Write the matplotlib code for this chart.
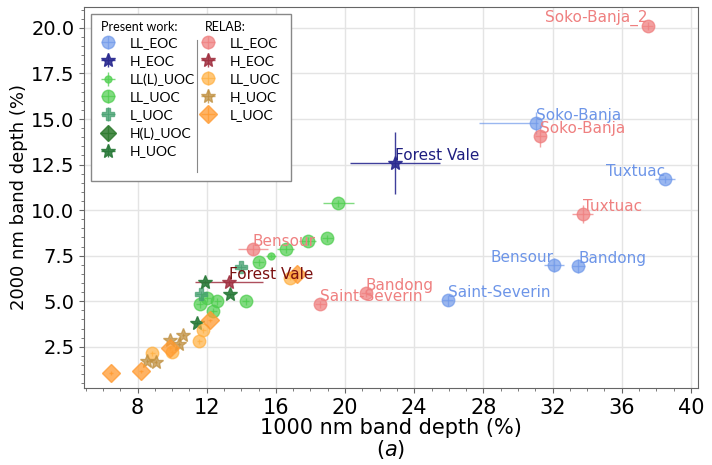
import numpy as np
import matplotlib
matplotlib.use('Agg')
import matplotlib.pyplot as plt
from matplotlib.lines import Line2D
from matplotlib.ticker import MultipleLocator

# Present work
pw_ll_eoc_names = ['Soko-Banja', 'Tuxtuac', 'Bensour', 'Bandong', 'Saint-Severin']
pw_ll_eoc_x = [31.05, 38.5, 32.08, 33.5, 25.93]
pw_ll_eoc_y = [14.78, 11.7, 6.98, 6.93, 5.05]
pw_ll_eoc_xerr = [[3.3, 0.6, 0.6, 0.4, 0.3], [0.1, 0.6, 0.6, 0.4, 0.3]]
pw_ll_eoc_yerr = [0.6, 0.2, 0.4, 0.4, 0.3]

pw_h_eoc_names = ['Forest Vale']
pw_h_eoc_x = [22.9]
pw_h_eoc_y = [12.58]
pw_h_eoc_xerr = [2.6]
pw_h_eoc_yerr = [1.7]

pw_lll_uoc_x = [15.7]
pw_lll_uoc_y = [7.47]

pw_ll_uoc_x = [19.6, 18.98, 17.83, 16.56, 15.0, 14.26, 12.6, 12.02, 11.6, 12.37]
pw_ll_uoc_y = [10.38, 8.46, 8.3, 7.86, 7.14, 5.0, 5.0, 5.17, 4.84, 4.45]
pw_ll_uoc_xerr = [0.9, 0.3, 0.5, 0.5, 0.3, 0.2, 0.2, 0.2, 0.2, 0.2]

pw_l_uoc_x = [13.98, 11.68]
pw_l_uoc_y = [6.87, 5.38]

pw_hl_uoc_x = [np.nan]
pw_hl_uoc_y = [np.nan]

pw_h_uoc_x = [11.9, 13.35, 11.45]
pw_h_uoc_y = [6.04, 5.38, 3.79]

# RELAB
rl_ll_eoc_names = ['Soko-Banja_2', 'Soko-Banja', 'Tuxtuac', 'Bandong', 'Saint-Severin', 'Bensour']
rl_ll_eoc_x = [37.5, 31.3, 33.75, 21.2, 18.57, 14.67]
rl_ll_eoc_y = [20.1, 14.07, 9.78, 5.44, 4.84, 7.86]
rl_ll_eoc_xerr = [0.3, 0.3, 0.6, 0.3, 0.3, 0.85]
rl_ll_eoc_yerr = [0.2, 0.6, 0.5, 0.2, 0.2, 0.3]

rl_h_eoc_names = ['Forest Vale']
rl_h_eoc_x = [13.29]
rl_h_eoc_y = [6.04]
rl_h_eoc_xerr = [1.95]

rl_ll_uoc_x = [8.86, 10.0, 11.56, 11.8, 16.8]
rl_ll_uoc_y = [2.14, 2.2, 2.8, 3.4, 6.3]

rl_h_uoc_x = [8.57, 9.05, 9.9, 10.4, 10.64]
rl_h_uoc_y = [1.72, 1.65, 2.9, 2.64, 3.15]

rl_l_uoc_x = [6.45, 8.2, 9.9, 12.2, 17.2]
rl_l_uoc_y = [1.06, 1.15, 2.45, 3.95, 6.5]

fig = plt.figure(figsize=(7.12, 4.65), dpi=100)
ax = fig.add_axes([0.118, 0.166, 0.862, 0.819])

def eb(x, y, xerr=None, yerr=None, **kw):
    return ax.errorbar(x, y, xerr=xerr, yerr=yerr, linestyle='none', elinewidth=1, capsize=0, **kw)

h1 = eb(pw_ll_eoc_x, pw_ll_eoc_y, pw_ll_eoc_xerr, pw_ll_eoc_yerr, fmt='o', color='#7099ea', ms=9, alpha=0.7, label='LL_EOC')
h2 = eb(pw_h_eoc_x, pw_h_eoc_y, pw_h_eoc_xerr, pw_h_eoc_yerr, fmt='*', color='#2a2a90', ms=10, alpha=0.9, label='H_EOC')
h3 = eb(pw_lll_uoc_x, pw_lll_uoc_y, 0.3, 0.1, fmt='o', color='#55d155', ms=5, alpha=0.8, label='LL(L)_UOC')
h4 = eb(pw_ll_uoc_x, pw_ll_uoc_y, pw_ll_uoc_xerr, 0.2, fmt='o', color='#4ccd4c', ms=9, alpha=0.7, label='LL_UOC')
h5 = eb(pw_l_uoc_x, pw_l_uoc_y, 0.3, 0.2, fmt='P', color='#45a070', ms=9, alpha=0.75, label='L_UOC')
h6 = eb(pw_hl_uoc_x, pw_hl_uoc_y, 0.2, 0.2, fmt='D', color='#2e7a2e', ms=8, alpha=0.85, label='H(L)_UOC')
h7 = eb(pw_h_uoc_x, pw_h_uoc_y, 0.2, 0.1, fmt='*', color='#2a7a3a', ms=10, alpha=0.9, label='H_UOC')

r1 = eb(rl_ll_eoc_x, rl_ll_eoc_y, rl_ll_eoc_xerr, rl_ll_eoc_yerr, fmt='o', color='#ef8080', ms=9, alpha=0.75, label='LL_EOC')
r2 = eb(rl_h_eoc_x, rl_h_eoc_y, rl_h_eoc_xerr, 0.15, fmt='*', color='#a03040', ms=10, alpha=0.85, label='H_EOC')
r3 = eb(rl_ll_uoc_x, rl_ll_uoc_y, 0.15, 0.15, fmt='o', color='#ffb040', ms=9, alpha=0.7, label='LL_UOC')
r4 = eb(rl_h_uoc_x, rl_h_uoc_y, 0.1, 0.1, fmt='*', color='#c09040', ms=10, alpha=0.75, label='H_UOC')
r5 = eb(rl_l_uoc_x, rl_l_uoc_y, 0.1, 0.1, fmt='D', color='#ff9a30', ms=9, alpha=0.75, label='L_UOC')

# labels
def label(xs, ys, names, color, ha_list):
    for x, y, n, ha in zip(xs, ys, names, ha_list):
        ax.text(x, y, n, color=color, fontsize=11, ha=ha, va='bottom')

label(pw_ll_eoc_x, pw_ll_eoc_y, pw_ll_eoc_names, '#6d95e8',
      ['left', 'right', 'right', 'left', 'left'])
label(pw_h_eoc_x, pw_h_eoc_y, pw_h_eoc_names, '#1e1e80', ['left'])
label(rl_ll_eoc_x, rl_ll_eoc_y, rl_ll_eoc_names, '#ef8080',
      ['right', 'left', 'left', 'left', 'left', 'left'])
label(rl_h_eoc_x, rl_h_eoc_y, rl_h_eoc_names, '#7a1010', ['left'])

ax.set_xlim(4.9, 40.4)
ax.set_ylim(0.25, 21.15)
ax.xaxis.set_major_locator(MultipleLocator(4))
ax.xaxis.set_minor_locator(MultipleLocator(1))
ax.yaxis.set_major_locator(MultipleLocator(2.5))
ax.yaxis.set_minor_locator(MultipleLocator(0.5))
ax.tick_params(axis='x', labelsize=15)
ax.tick_params(axis='y', labelsize=14)
ax.tick_params(which='both', color='#666666')
ax.grid(True, which='major', color='#e4e4e4', linewidth=1)
ax.set_axisbelow(True)
for s in ax.spines.values():
    s.set_color('#666666')
ax.set_xlabel('1000 nm band depth (%)\n($a$)', fontsize=15, linespacing=1.05, labelpad=0)
ax.set_ylabel('2000 nm band depth (%)', fontsize=13, labelpad=2)

# legend with two columns, headers drawn separately
blank = Line2D([], [], linestyle='none')
pad = ' ' * 16
handles = [blank, h1, h2, h3, h4, h5, h6, h7, blank,
           blank, r1, r2, r3, r4, r5, blank, blank, blank]
labels = [' ', 'LL_EOC', 'H_EOC', 'LL(L)_UOC', 'LL_UOC', 'L_UOC', 'H(L)_UOC', 'H_UOC', ' ',
          pad, 'LL_EOC', 'H_EOC', 'LL_UOC', 'H_UOC', 'L_UOC', ' ', ' ', ' ']
leg = ax.legend(handles, labels, ncol=2, loc='upper left', fancybox=False, edgecolor='#888888',
                prop={'family': 'Lato', 'size': 10}, handlelength=1.6, handletextpad=0.8,
                labelspacing=0.42, columnspacing=0.1, borderaxespad=0.5, borderpad=0.4,
                framealpha=1)
fig.text(101 / 712, 1 - 27 / 465, 'Present work:', family='Lato', fontsize=9, ha='left', va='center')
fig.text(205 / 712, 1 - 27 / 465, 'RELAB:', family='Lato', fontsize=9, ha='left', va='center')
fig.add_artist(Line2D([197 / 712, 197 / 712], [1 - 40 / 465, 1 - 172 / 465], color='#888888', linewidth=0.8))

plt.savefig('out.png', dpi=100)
